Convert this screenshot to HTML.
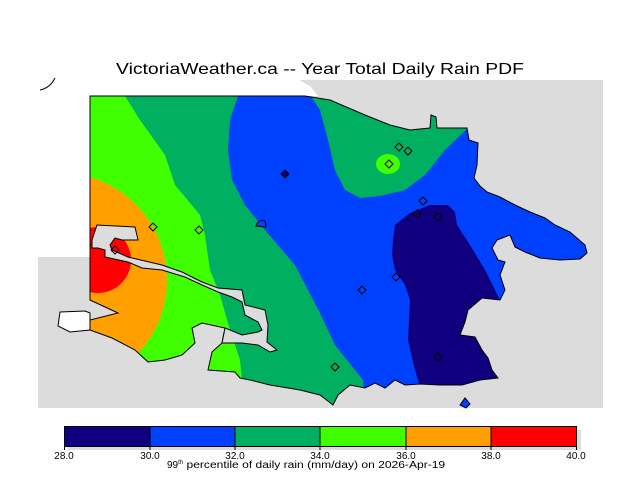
<!DOCTYPE html>
<html><head><style>
html,body{margin:0;padding:0;background:#fff;}
svg{display:block;}
text{font-family:"Liberation Sans","DejaVu Sans",sans-serif;}
</style></head><body>
<svg width="640" height="480" viewBox="0 0 640 480" xmlns="http://www.w3.org/2000/svg">
<defs>
<clipPath id="land"><path id="lp" d="M90,96 L305,96 L330,100 L365,115 L390,125 L410,130 L430,128 L431,115 L436,117 L437,128 L467,128 L469,140 L478,143 L477,165 L474,178 L480,186 L487,192 L500,197 L515,205 L530,212 L545,218 L555,225 L570,232 L585,245 L587,253 L580,259 L560,260 L540,258 L525,252 L515,247 L510,235 L497,240 L492,248 L498,260 L505,262 L500,275 L505,290 L500,300 L482,298 L468,310 L465,322 L460,335 L475,337 L482,350 L488,358 L492,370 L498,378 L480,380 L462,385 L440,385 L420,384 L405,385 L395,380 L385,388 L375,383 L365,388 L350,385 L338,395 L333,405 L320,395 L300,390 L270,385 L250,380 L240,378 L235,372 L208,370 L212,352 L222,343 L225,328 L202,323 L192,328 L195,343 L182,355 L165,360 L148,362 L135,350 L112,338 L90,330 L90,320 L118,313 L90,300 Z"/></clipPath>
</defs>
<text x="320" y="74" font-size="16" text-anchor="middle" fill="#000" textLength="408" lengthAdjust="spacingAndGlyphs">VictoriaWeather.ca -- Year Total Daily Rain PDF</text>
<rect x="38" y="80" width="565" height="328" fill="#dcdcdc"/>
<rect x="38" y="80" width="52" height="177" fill="#fff"/>
<rect x="38" y="80" width="262" height="16" fill="#fff"/>
<path d="M299,80 L310,86 L318,96 L299,96 Z" fill="#fff"/>
<path d="M60,312 L85,311 L90,313 L90,330 L70,332 L58,326 Z" fill="#fff" stroke="#000" stroke-width="1"/>
<path d="M40,90 Q50,88 55,78" fill="none" stroke="#000" stroke-width="1"/>
<g clip-path="url(#land)">
<rect x="80" y="90" width="540" height="330" fill="#00b060"/>
<path d="M80,90 L125,96 L140,120 L165,155 L175,185 L200,215 L205,235 L210,270 L220,295 L230,330 L240,360 L245,410 L80,410 Z" fill="#40ff00"/>
<circle cx="60" cy="280" r="107" fill="#ffa000"/>
<circle cx="98" cy="260" r="33" fill="#ff0000"/>
<path d="M240,90 L307,90 L320,110 L328,140 L335,170 L345,190 L360,198 L380,196 L405,190 L425,175 L445,150 L470,126 L620,126 L620,420 L366,420 L363,380 L335,345 L320,313 L295,265 L265,230 L245,205 L232,180 L228,150 L230,120 Z" fill="#0040ff"/>
<ellipse cx="388" cy="164" rx="12" ry="10" fill="#40ff00"/>
<path d="M393,240 L395,225 L410,213 L430,205 L448,205 L455,212 L457,225 L470,245 L485,270 L500,300 L510,330 L510,420 L430,420 L415,370 L408,340 L410,300 L405,285 L395,270 L392,255 Z" fill="#10007f"/>
</g>
<use href="#lp" fill="none" stroke="#000" stroke-width="1"/>
<path d="M222,343 L225,328 L230,330 L242,335 L258,332 L262,330 L258,322 L245,315 L242,302 L232,297 L218,292 L202,285 L185,277 L162,270 L142,268 L128,262 L105,257 L105,250 L98,248 L92,248 L92,240 L97,225 L135,227 L138,240 L122,240 L115,238 L110,245 L112,250 L128,257 L162,265 L182,272 L202,282 L218,288 L242,290 L245,305 L265,310 L268,325 L267,342 L277,350 L270,352 L258,345 L242,343 L232,343 Z" fill="#dcdcdc" stroke="#000" stroke-width="1"/>
<path d="M256,226 Q258,219 265,221 L266,227 Z" fill="#0040ff" stroke="#000"/>
<path d="M460,405 L465,398 L470,404 L466,408 Z" fill="#0040ff" stroke="#000"/>
<g fill="none" stroke="#000" stroke-width="1">
<path d="M285,170 l4,4 l-4,4 l-4,-4 Z" fill="#10007f"/>
<path d="M153,223 l4,4 l-4,4 l-4,-4 Z"/>
<path d="M199,226 l4,4 l-4,4 l-4,-4 Z"/>
<path d="M115,246 l4,4 l-4,4 l-4,-4 Z"/>
<path d="M389,160 l4,4 l-4,4 l-4,-4 Z"/>
<path d="M399,143 l4,4 l-4,4 l-4,-4 Z"/>
<path d="M408,147 l4,4 l-4,4 l-4,-4 Z"/>
<path d="M423,197 l4,4 l-4,4 l-4,-4 Z"/>
<path d="M417,210 l4,4 l-4,4 l-4,-4 Z"/>
<path d="M438,213 l4,4 l-4,4 l-4,-4 Z"/>
<path d="M396,273 l4,4 l-4,4 l-4,-4 Z"/>
<path d="M362,286 l4,4 l-4,4 l-4,-4 Z"/>
<path d="M335,363 l4,4 l-4,4 l-4,-4 Z"/>
<path d="M438,353 l4,4 l-4,4 l-4,-4 Z"/>
</g>
<rect x="68" y="430" width="513" height="20" fill="#dcdcdc"/>
<rect x="64" y="426" width="86" height="20" fill="#10007f"/>
<rect x="150" y="426" width="85" height="20" fill="#0040ff"/>
<rect x="235" y="426" width="85" height="20" fill="#00b060"/>
<rect x="320" y="426" width="86" height="20" fill="#40ff00"/>
<rect x="406" y="426" width="85" height="20" fill="#ffa000"/>
<rect x="491" y="426" width="86" height="20" fill="#ff0000"/>
<g stroke="#000" stroke-width="1" fill="none">
<rect x="64.5" y="426.5" width="512" height="20"/>
<path d="M150,426V450M235,426V450M320,426V450M406,426V450M491,426V450M64.5,426V450M576.5,426V450"/>
</g>
<g font-size="10" fill="#000" text-anchor="middle">
<text x="64" y="459">28.0</text><text x="150" y="459">30.0</text><text x="235" y="459">32.0</text>
<text x="320" y="459">34.0</text><text x="406" y="459">36.0</text><text x="491" y="459">38.0</text><text x="576" y="459">40.0</text>
</g>
<text x="167" y="468" font-size="10" fill="#000">99<tspan font-size="6" dy="-4">th</tspan><tspan dy="4" textLength="262" lengthAdjust="spacingAndGlyphs"> percentile of daily rain (mm/day) on 2026-Apr-19</tspan></text>
</svg>
</body></html>
